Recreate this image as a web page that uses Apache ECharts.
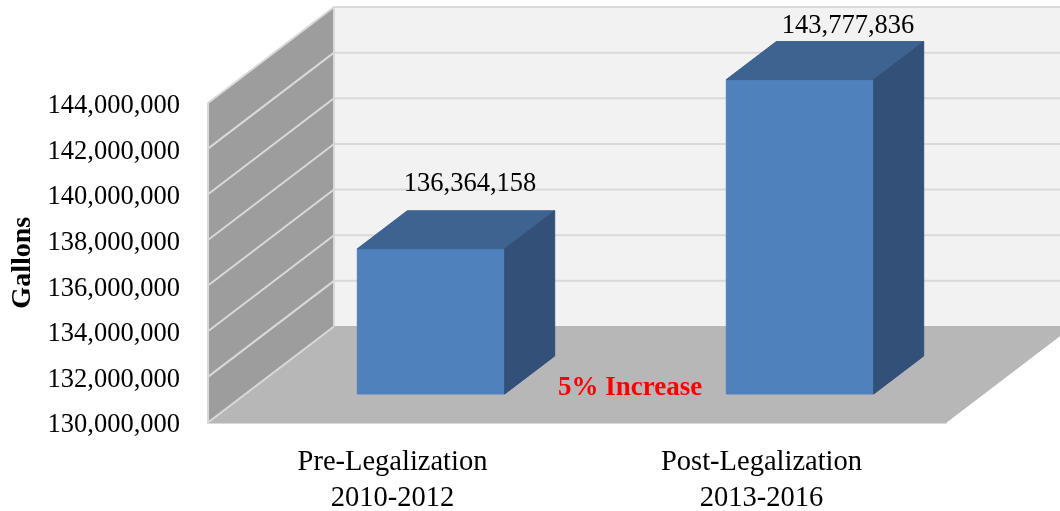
<!DOCTYPE html>
<html>
<head>
<meta charset="utf-8">
<style>html,body{margin:0;padding:0;background:#fff}#c{width:1060px;height:511px}</style>
<script src="https://cdn.jsdelivr.net/npm/echarts@6/dist/echarts.min.js"></script>
</head>
<body>
<div id="c"></div>
<script>
const categories = ['Pre-Legalization\n2010-2012', 'Post-Legalization\n2013-2016'];
const gallons = [136364158, 143777836];
const yTicks = [130000000, 132000000, 134000000, 136000000, 138000000, 140000000, 142000000, 144000000];
const yAxisName = 'Gallons';
const note = '5% Increase';

const FONT = '"Liberation Serif", serif';
const WALL_DX = 126, WALL_DY = 96;
const BAR_SHIFT_X = 38.5, BAR_SHIFT_Y = 28.5, BAR_HALF = 73.7, BAR_DX = 50, BAR_DY = 38;
const LABEL_OFFSET = [[39, -65], [48, -54]];
const C = {back:'#f2f2f2', left:'#9d9d9d', floor:'#b7b7b7', grid:'#d9d9d9', front:'#4f81bd', top:'#3d6390', side:'#325078'};

const fmt = v => Number(v).toLocaleString('en-US');
const poly = (pts, fill, stroke) => ({
  type:'polygon', shape:{points:pts},
  style:{fill, stroke: stroke || fill, lineWidth: 1}
});
const line = (a, b) => ({
  type:'line', shape:{x1:a[0], y1:a[1], x2:b[0], y2:b[1]},
  style:{stroke:C.grid, lineWidth:2, fill:null}
});

function renderWalls(params, api) {
  const cs = params.coordSys;
  const x0 = cs.x, x1 = cs.x + cs.width;
  const y0 = api.coord([0, yTicks[0]])[1];
  const yT = api.coord([0, yTicks[yTicks.length - 1]])[1];
  const kids = [
    poly([[x0+WALL_DX,yT-WALL_DY],[x1+WALL_DX,yT-WALL_DY],[x1+WALL_DX,y0-WALL_DY],[x0+WALL_DX,y0-WALL_DY]], C.back),
    poly([[x0,yT],[x0+WALL_DX,yT-WALL_DY],[x0+WALL_DX,y0-WALL_DY],[x0,y0]], C.left),
    poly([[x0,y0],[x0+WALL_DX,y0-WALL_DY],[x1+WALL_DX,y0-WALL_DY],[x1,y0]], C.floor)
  ];
  yTicks.forEach(t => {
    const y = api.coord([0, t])[1];
    kids.push(line([x0, y], [x0+WALL_DX, y-WALL_DY]));
    if (t !== yTicks[0]) kids.push(line([x0+WALL_DX, y-WALL_DY], [x1+WALL_DX, y-WALL_DY]));
  });
  kids.push(line([x0, yT], [x0, y0]));
  kids.push(line([x0+WALL_DX, yT-WALL_DY], [x0+WALL_DX, y0-WALL_DY]));
  return {type:'group', silent:true, children:kids};
}

function renderBar(params, api) {
  const i = api.value(0), v = api.value(1);
  const base = api.coord([i, yTicks[0]]);
  const topP = api.coord([i, v]);
  const cx = base[0] + BAR_SHIFT_X;
  const l = cx - BAR_HALF, r = cx + BAR_HALF;
  const b = base[1] - BAR_SHIFT_Y, t = topP[1] - BAR_SHIFT_Y;
  const off = LABEL_OFFSET[i];
  return {type:'group', children:[
    poly([[l,t],[r,t],[r,b],[l,b]], C.front),
    poly([[l,t],[l+BAR_DX,t-BAR_DY],[r+BAR_DX,t-BAR_DY],[r,t]], C.top),
    poly([[r,t],[r+BAR_DX,t-BAR_DY],[r+BAR_DX,b-BAR_DY],[r,b]], C.side),
    {type:'text', style:{x:cx+off[0], y:t+off[1], text:fmt(v), fill:'#000', font:'26.5px '+FONT, align:'center', verticalAlign:'middle'}}
  ]};
}

const chart = echarts.init(document.getElementById('c'), null, {renderer:'canvas'});
chart.setOption({
  animation:false,
  backgroundColor:'#fff',
  grid:{left:208, top:103, width:738, height:319.5, containLabel:false, outerBoundsMode:'none'},
  xAxis:{
    type:'category', data:categories,
    axisLine:{show:true, lineStyle:{color:C.grid, width:2}},
    axisTick:{show:false},
    splitLine:{show:false},
    axisLabel:{color:'#000', fontFamily:FONT, fontSize:28.5, lineHeight:36, margin:22.5, interval:0}
  },
  yAxis:{
    type:'value', min:yTicks[0], max:yTicks[yTicks.length-1], interval:2000000,
    name:yAxisName, nameLocation:'middle', nameGap:171, nameRotate:90,
    nameTextStyle:{color:'#000', fontFamily:FONT, fontSize:28, fontWeight:'bold'},
    axisLine:{show:false}, axisTick:{show:false}, splitLine:{show:false},
    axisLabel:{color:'#000', fontFamily:FONT, fontSize:26.5, margin:28, verticalAlign:'top', lineHeight:6, formatter:fmt}
  },
  graphic:[{
    type:'text', left:558, top:375, z:100,
    style:{text:note, fill:'#ff0000', font:'bold 27px '+FONT}
  }],
  series:[
    {type:'custom', coordinateSystem:'cartesian2d', clip:false, silent:true, z:1,
     data:[[0, yTicks[0]]], renderItem:renderWalls},
    {type:'custom', coordinateSystem:'cartesian2d', clip:false, z:2,
     data:gallons.map((v,i)=>[i,v]), encode:{x:0,y:1}, renderItem:renderBar}
  ]
});
</script>
</body>
</html>
